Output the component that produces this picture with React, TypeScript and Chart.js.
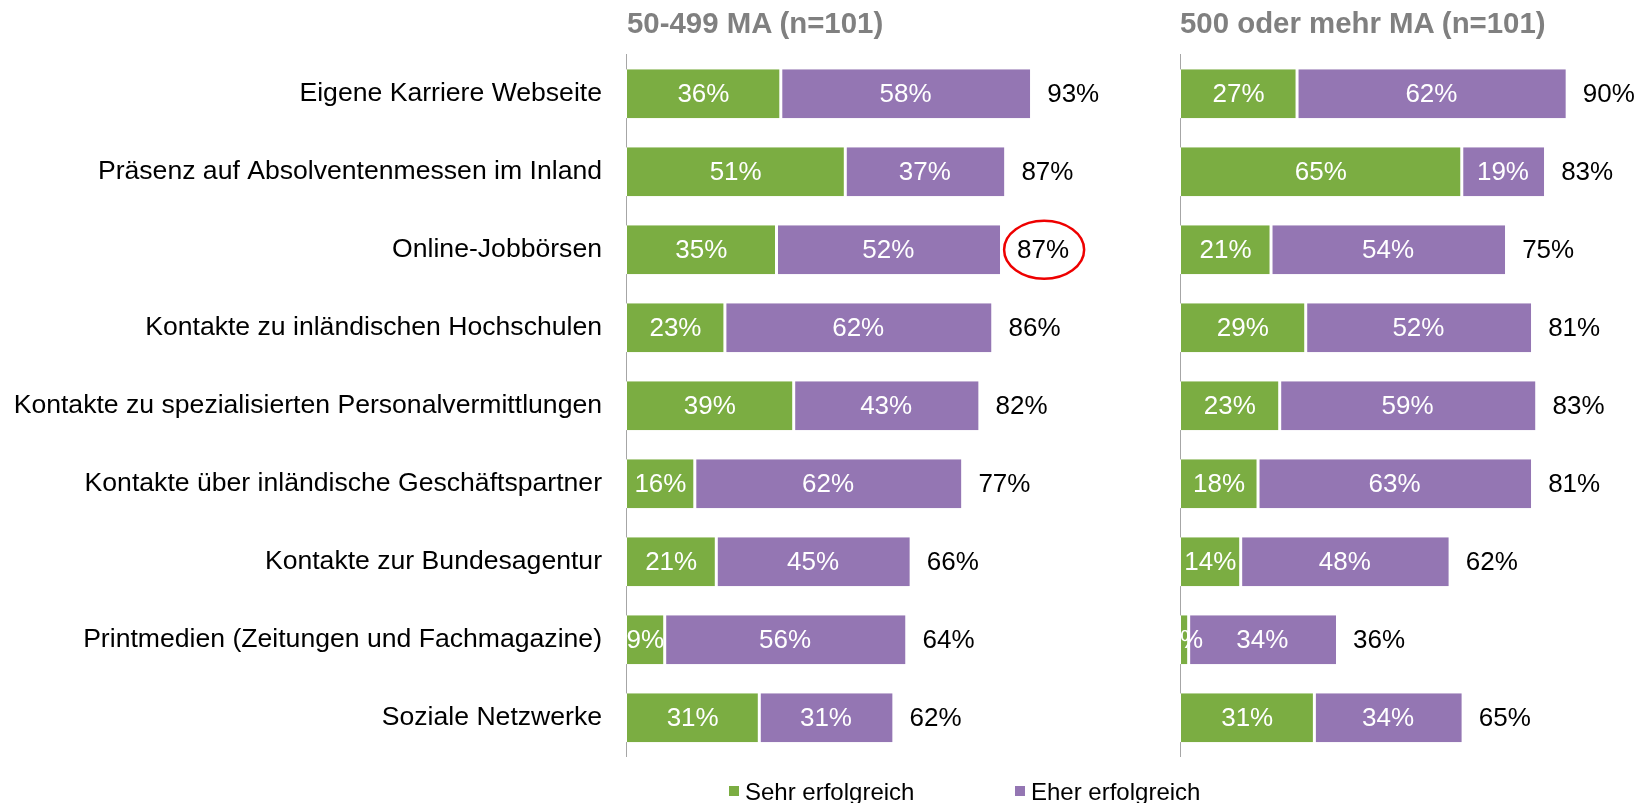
import React, { useEffect, useRef } from "react";
import { Chart, registerables } from "chart.js";

Chart.register(...registerables);

const categories = [
  "Eigene Karriere Webseite",
  "Präsenz auf Absolventenmessen im Inland",
  "Online-Jobbörsen",
  "Kontakte zu inländischen Hochschulen",
  "Kontakte zu spezialisierten Personalvermittlungen",
  "Kontakte über inländische Geschäftspartner",
  "Kontakte zur Bundesagentur",
  "Printmedien (Zeitungen und Fachmagazine)",
  "Soziale Netzwerke",
];

const seriesNames = ["Sehr erfolgreich", "Eher erfolgreich"];
const panelTitles = ["50-499 MA (n=101)", "500 oder mehr MA (n=101)"];

const smallSehr = [36, 51, 35, 23, 39, 16, 21, 9, 31];
const smallEher = [58, 37, 52, 62, 43, 62, 45, 56, 31];
const smallTotal = [93, 87, 87, 86, 82, 77, 66, 64, 62];

const largeSehr = [27, 65, 21, 29, 23, 18, 14, 2, 31];
const largeEher = [62, 19, 54, 52, 59, 63, 48, 34, 34];
const largeTotal = [90, 83, 75, 81, 83, 81, 62, 36, 65];

// index of the row whose total is circled in the left panel
const highlightSmallRow = 2;

const GREEN = "#7BAD42";
const PURPLE = "#9476B3";
const FONT = "'Liberation Sans', Arial, Helvetica, sans-serif";

type PanelProps = {
  sehr: number[];
  eher: number[];
  totals: number[];
  showLabels: boolean;
  width: number;
  axisWidth: number;
  padRight: number;
  highlight: number;
};

function Panel(props: PanelProps) {
  const ref = useRef<HTMLCanvasElement | null>(null);
  useEffect(() => {
    const canvas = ref.current!;
    const labelPlugin = {
      id: "barLabels",
      afterDatasetsDraw(chart: any) {
        const ctx = chart.ctx;
        ctx.save();
        ctx.font = `26px ${FONT}`;
        ctx.textBaseline = "middle";
        ctx.textAlign = "center";
        ctx.fillStyle = "#ffffff";
        chart.data.datasets.forEach((ds: any, di: number) => {
          const meta = chart.getDatasetMeta(di);
          meta.data.forEach((el: any, i: number) => {
            const cx = (el.x + el.base) / 2;
            ctx.fillText(ds.data[i] + "%", cx, el.y + 1);
          });
        });
        const last = chart.getDatasetMeta(chart.data.datasets.length - 1);
        ctx.fillStyle = "#000000";
        ctx.textAlign = "left";
        last.data.forEach((el: any, i: number) => {
          const txt = props.totals[i] + "%";
          const tx = el.x + 17;
          ctx.fillText(txt, tx, el.y + 1);
          if (i === props.highlight) {
            const w = ctx.measureText(txt).width;
            ctx.beginPath();
            ctx.strokeStyle = "#ee0000";
            ctx.lineWidth = 2.5;
            ctx.ellipse(tx + w / 2 + 1, el.y, w / 2 + 14, 29, 0, 0, Math.PI * 2);
            ctx.stroke();
          }
        });
        ctx.restore();
      },
    };
    const chart = new Chart(canvas, {
      type: "bar",
      data: {
        labels: categories,
        datasets: [
          {
            label: seriesNames[0],
            data: props.sehr,
            backgroundColor: GREEN,
            borderColor: "#ffffff",
            borderWidth: { left: 1, right: 1.5, top: 0, bottom: 0 } as any,
            borderSkipped: false,
            barPercentage: 0.63,
            categoryPercentage: 1,
          },
          {
            label: seriesNames[1],
            data: props.eher,
            backgroundColor: PURPLE,
            borderColor: "#ffffff",
            borderWidth: { left: 1.5, right: 0, top: 0, bottom: 0 } as any,
            borderSkipped: false,
            barPercentage: 0.63,
            categoryPercentage: 1,
          },
        ],
      },
      options: {
        indexAxis: "y",
        responsive: false,
        animation: false,
        devicePixelRatio: 1,
        layout: { padding: { top: 54.7, bottom: 46.3, left: 0, right: props.padRight } },
        plugins: {
          legend: { display: false },
          tooltip: { enabled: false },
          title: { display: false },
        },
        scales: {
          x: { stacked: true, display: false, min: 0, max: 100 },
          y: {
            stacked: true,
            grid: { display: false },
            border: { display: true, color: "#a6a6a6", width: 1 },
            ticks: {
              display: props.showLabels,
              color: "#000000",
              padding: 16,
              font: { family: FONT, size: 26.6 },
            },
            afterFit(scale: any) {
              scale.width = props.axisWidth;
            },
          },
        },
      },
      plugins: [labelPlugin],
    } as any);
    return () => chart.destroy();
  }, []);
  return <canvas ref={ref} width={props.width} height={803} style={{ display: "block", width: props.width, height: 803 }} />;
}

export default function App() {
  const titleStyle: React.CSSProperties = {
    position: "absolute",
    top: 7.5,
    fontFamily: FONT,
    fontWeight: "bold",
    fontSize: 29.4,
    lineHeight: "29.4px",
    color: "#808080",
    whiteSpace: "nowrap",
  };
  const legendText: React.CSSProperties = {
    position: "absolute",
    top: 780,
    fontFamily: FONT,
    fontSize: 24,
    lineHeight: "24px",
    color: "#000",
    whiteSpace: "nowrap",
  };
  const sq = (c: string, left: number): React.CSSProperties => ({
    position: "absolute",
    left,
    top: 786,
    width: 10,
    height: 10,
    background: c,
  });
  return (
    <div style={{ position: "fixed", left: 0, top: 0, width: 1651, height: 803, background: "#fff", overflow: "hidden" }}>
      <div style={{ position: "absolute", left: 0, top: 0 }}>
        <Panel sehr={smallSehr} eher={smallEher} totals={smallTotal} showLabels={true} width={1100} axisWidth={626} padRight={44} highlight={highlightSmallRow} />
      </div>
      <div style={{ position: "absolute", left: 1100, top: 0 }}>
        <Panel sehr={largeSehr} eher={largeEher} totals={largeTotal} showLabels={false} width={551} axisWidth={80} padRight={37.5} highlight={-1} />
      </div>
      <div style={{ ...titleStyle, left: 627 }}>{panelTitles[0]}</div>
      <div style={{ ...titleStyle, left: 1180 }}>{panelTitles[1]}</div>
      <div style={sq(GREEN, 729)} />
      <div style={{ ...legendText, left: 745 }}>{seriesNames[0]}</div>
      <div style={sq(PURPLE, 1015)} />
      <div style={{ ...legendText, left: 1031 }}>{seriesNames[1]}</div>
    </div>
  );
}
